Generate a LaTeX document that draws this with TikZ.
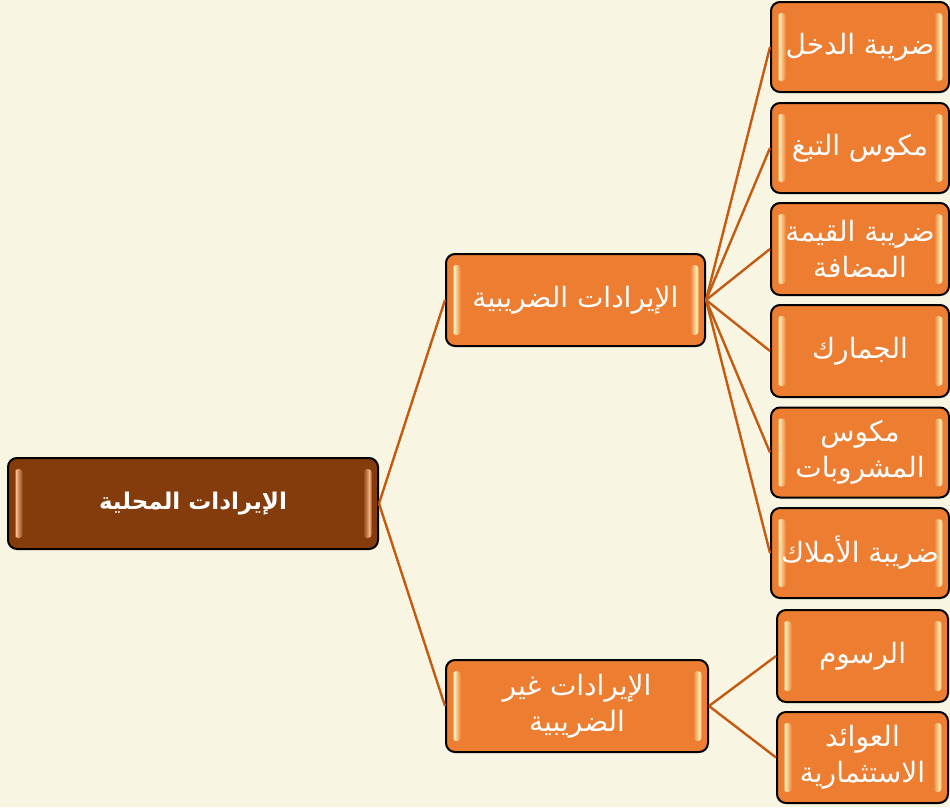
\documentclass[tikz,border=0pt]{standalone}
\usepackage{fontspec}
\newfontfamily\arabicfont[Script=Arabic]{DejaVu Sans}
\TeXXeTstate=1
\usetikzlibrary{calc}
\definecolor{bg}{HTML}{F8F5E2}
\definecolor{org}{HTML}{ED7D31}
\definecolor{brn}{HTML}{843C0C}
\definecolor{lnk}{HTML}{C55A11}
\definecolor{hl}{HTML}{FFE9B0}
\definecolor{hlb}{HTML}{F4B183}
\tikzset{
  basebox/.style={draw=black, line width=2pt, rounded corners=9pt, text=white,
    align=center, inner sep=0pt},
  obox/.style={basebox, fill=org},
  leaf/.style={obox, minimum width=178pt, minimum height=90pt},
  rootbox/.style={basebox, fill=brn, minimum width=370pt, minimum height=91pt},
  link/.style={draw=lnk, line width=2.4pt},
  lbl/.style={text=white, align=center, inner sep=0pt,
    font=\arabicfont\fontsize{28}{36}\selectfont},
  rootlbl/.style={text=white, align=center, inner sep=0pt,
    font=\arabicfont\bfseries\fontsize{23}{30}\selectfont},
}
% bevel strips: #1 node name, #2 base colour, #3 highlight colour
\newcommand\bevelstrips[3]{%
  \begin{scope}
    \clip[rounded corners=4pt] ($(#1.south west)+(7,-12)$) rectangle ($(#1.north west)+(16,12)$);
    \shade[left color=#2, right color=#3]
      ($(#1.south west)+(7,-12)$) rectangle ($(#1.north west)+(9.5,12)$);
    \shade[left color=#3, right color=#2]
      ($(#1.south west)+(9.5,-12)$) rectangle ($(#1.north west)+(16,12)$);
  \end{scope}
  \begin{scope}
    \clip[rounded corners=4pt] ($(#1.south east)+(-16,-12)$) rectangle ($(#1.north east)+(-7,12)$);
    \shade[left color=#2, right color=#3]
      ($(#1.south east)+(-16,-12)$) rectangle ($(#1.north east)+(-9.5,12)$);
    \shade[left color=#3, right color=#2]
      ($(#1.south east)+(-9.5,-12)$) rectangle ($(#1.north east)+(-7,12)$);
  \end{scope}
}
\begin{document}
\begin{tikzpicture}[x=1pt, y=-1pt]
\fill[bg] (0,0) rectangle (950,807);
\useasboundingbox (0,0) rectangle (950,807);

\node[rootbox] (root) at (193,503.5) {};
\node[obox, minimum width=259pt, minimum height=92pt] (tax) at (575.5,300) {};
\node[obox, minimum width=262pt, minimum height=92pt] (ntax) at (577,706) {};
\node[leaf] (l1) at (860,47) {};
\node[leaf] (l2) at (860,148) {};
\node[leaf, minimum height=92pt] (l3) at (860,249) {};
\node[leaf, minimum height=92pt] (l4) at (860,351) {};
\node[leaf] (l5) at (860,452.5) {};
\node[leaf] (l6) at (860,553) {};
\node[leaf, minimum width=171pt, minimum height=92pt] (l7) at (862.5,656) {};
\node[leaf, minimum width=171pt, minimum height=91pt] (l8) at (862.5,757.5) {};

\bevelstrips{root}{brn}{hlb}
\foreach \n in {tax,ntax,l1,l2,l3,l4,l5,l6,l7,l8}{\bevelstrips{\n}{org}{hl}}

\node[rootlbl] (troot) at (root) {\beginR الإيرادات المحلية\endR};
\node[lbl] (ttax) at (tax) {\beginR الإيرادات الضريبية\endR};
\node[lbl] (tntax) at (ntax) {\beginR الإيرادات غير\endR\\\beginR الضريبية\endR};
\node[lbl] (t1) at (l1) {\beginR ضريبة الدخل\endR};
\node[lbl] (t2) at (l2) {\beginR مكوس التبغ\endR};
\node[lbl] (t3) at (l3) {\beginR ضريبة القيمة\endR\\\beginR المضافة\endR};
\node[lbl] (t4) at (l4) {\beginR الجمارك\endR};
\node[lbl] (t5) at (l5) {\beginR مكوس\endR\\\beginR المشروبات\endR};
\node[lbl] (t6) at (l6) {\beginR ضريبة الأملاك\endR};
\node[lbl] (t7) at (l7) {\beginR الرسوم\endR};
\node[lbl] (t8) at (l8) {\beginR العوائد\endR\\\beginR الاستثمارية\endR};

\draw[link] (root.east) -- (tax.west);
\draw[link] (root.east) -- (ntax.west);
\foreach \n in {l1,l2,l3,l4,l5,l6}{\draw[link] (tax.east) -- (\n.west);}
\foreach \n in {l7,l8}{\draw[link] (ntax.east) -- (\n.west);}
\end{tikzpicture}
\end{document}
